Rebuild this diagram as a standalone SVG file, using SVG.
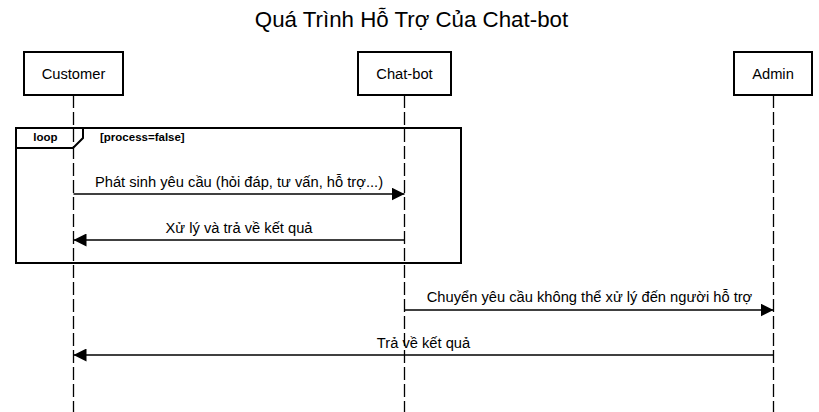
<svg xmlns="http://www.w3.org/2000/svg" width="819" height="412" viewBox="0 0 819 412">
<defs>
<style>
text{font-family:"Liberation Sans",Arial,sans-serif;fill:#000}
.title{font-size:22.3px}
.lbl{font-size:14.7px}
.bold{font-size:11.5px;font-weight:bold}
.box{fill:#fff;stroke:#000;stroke-width:2}
.life{stroke:#000;stroke-width:1.3;stroke-dasharray:13 4;fill:none}
.msg{stroke:#000;stroke-width:1.3;fill:none}
.frame{fill:none;stroke:#000;stroke-width:2}
</style>
<marker id="ah" viewBox="0 0 13 13" refX="13" refY="6.5" markerWidth="13" markerHeight="13" markerUnits="userSpaceOnUse" orient="auto">
<path d="M0,0 L13,6.5 L0,13 Z" fill="#000"/>
</marker>
</defs>
<rect width="819" height="412" fill="#fff"/>
<text class="title" x="411.5" y="27" text-anchor="middle">Quá Trình Hỗ Trợ Của Chat-bot</text>

<g id="lifelines">
<line class="life" x1="73.5" y1="95" x2="73.5" y2="412"/>
<line class="life" x1="404.5" y1="95" x2="404.5" y2="412"/>
<line class="life" x1="773.5" y1="95" x2="773.5" y2="412"/>
</g>

<g id="customer">
<rect class="box" x="24" y="52" width="99" height="43"/>
<text class="lbl" x="73.5" y="79" text-anchor="middle">Customer</text>
</g>
<g id="chatbot">
<rect class="box" x="358" y="52" width="93" height="43"/>
<text class="lbl" x="404.5" y="79" text-anchor="middle">Chat-bot</text>
</g>
<g id="admin">
<rect class="box" x="734" y="52" width="78" height="43"/>
<text class="lbl" x="773" y="79" text-anchor="middle">Admin</text>
</g>

<g id="loop">
<rect class="frame" x="16" y="128" width="445" height="135"/>
<path class="frame" d="M16,148 L73,148 L83,138 L83,128"/>
<text class="bold" x="45.5" y="141" text-anchor="middle">loop</text>
<text class="bold" x="100" y="141">[process=false]</text>
</g>

<g id="connectors">
<line class="msg" x1="73.5" y1="194" x2="404.5" y2="194" marker-end="url(#ah)"/>
<text class="lbl" x="239" y="187" text-anchor="middle">Phát sinh yêu cầu (hỏi đáp, tư vấn, hỗ trợ...)</text>
<line class="msg" x1="404.5" y1="240" x2="73.5" y2="240" marker-end="url(#ah)"/>
<text class="lbl" x="239" y="233" text-anchor="middle">Xử lý và trả về kết quả</text>
<line class="msg" x1="404.5" y1="310" x2="773.5" y2="310" marker-end="url(#ah)"/>
<text class="lbl" x="589.5" y="302" text-anchor="middle">Chuyển yêu cầu không thể xử lý đến người hỗ trợ</text>
<line class="msg" x1="773.5" y1="355" x2="73.5" y2="355" marker-end="url(#ah)"/>
<text class="lbl" x="423.5" y="348" text-anchor="middle">Trả về kết quả</text>
</g>
</svg>
